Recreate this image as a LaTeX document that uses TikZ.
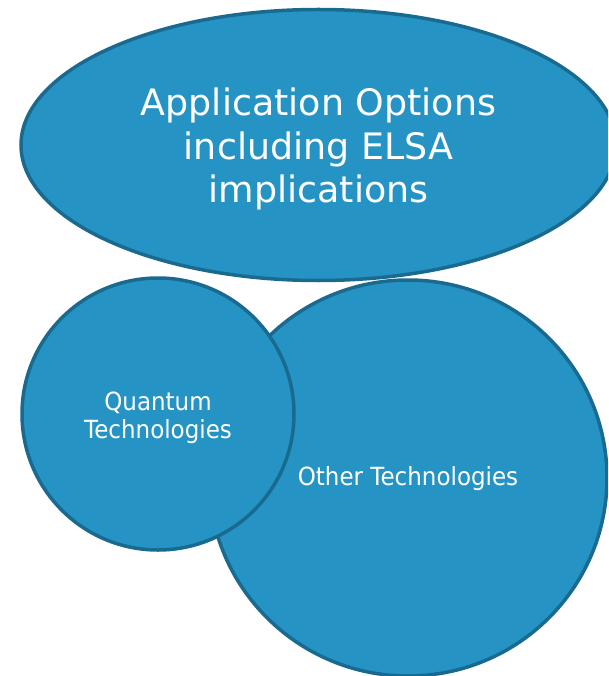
\documentclass[tikz,border=0pt]{standalone}
\usepackage{fontspec}
\setmainfont{DejaVu Sans}
\newfontfamily\narrowfont{DejaVu Sans}[FakeStretch=0.92]
\usetikzlibrary{shapes.geometric}
\definecolor{bubfill}{RGB}{37,148,197}
\definecolor{bubline}{RGB}{26,106,144}
\tikzset{
  bubble/.style={ellipse, fill=bubfill, draw=bubline, line width=3.5pt, inner sep=0pt},
  bubtext/.style={text=white, align=center, inner sep=0pt},
}
\begin{document}
\begin{tikzpicture}[x=1pt,y=-1pt]
\useasboundingbox (0,0) rectangle (608,676);
\clip (0,0) rectangle (608,676);
\node[bubble, minimum width=595pt, minimum height=271pt] (app) at (318.5,145) {};
\node[bubtext, font=\fontsize{36.4}{43.5}\selectfont] (applbl) at ([yshift=-4pt]app.center) {Application Options\\including ELSA\\implications};
\node[bubble, minimum width=398pt, minimum height=396pt] (other) at (408,478) {};
\node[bubtext, font=\narrowfont\fontsize{25}{29}\selectfont] (otherlbl) at ([yshift=-1pt]other.center) {Other Technologies};
\node[bubble, minimum width=272pt, minimum height=272pt] (quant) at (158,414) {};
\node[bubtext, font=\narrowfont\fontsize{25}{28.3}\selectfont] (quantlbl) at ([yshift=-4pt]quant.center) {Quantum\\Technologies};
\end{tikzpicture}
\end{document}
